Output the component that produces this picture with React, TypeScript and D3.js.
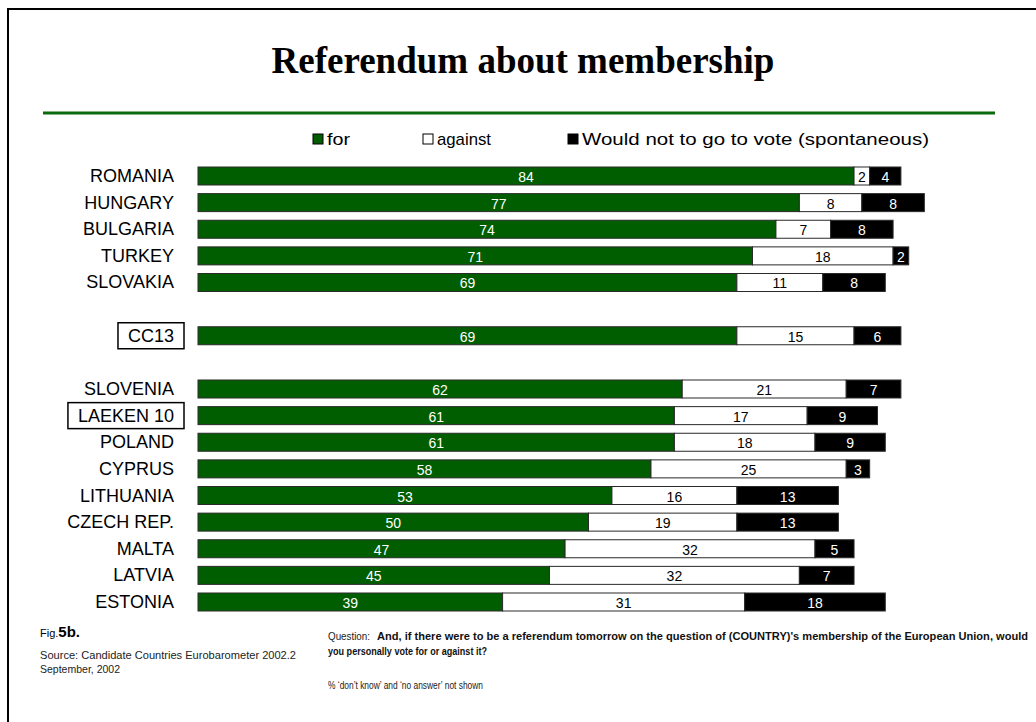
import React from "react";
import * as d3 from "d3";

const categories = [
  "ROMANIA", "HUNGARY", "BULGARIA", "TURKEY", "SLOVAKIA",
  "CC13",
  "SLOVENIA", "LAEKEN 10", "POLAND", "CYPRUS", "LITHUANIA",
  "CZECH REP.", "MALTA", "LATVIA", "ESTONIA",
];
const boxedCategories = ["CC13", "LAEKEN 10"];
const rowOrder = [
  "ROMANIA", "HUNGARY", "BULGARIA", "TURKEY", "SLOVAKIA", "gap1",
  "CC13", "gap2",
  "SLOVENIA", "LAEKEN 10", "POLAND", "CYPRUS", "LITHUANIA",
  "CZECH REP.", "MALTA", "LATVIA", "ESTONIA",
];
const forValues = [84, 77, 74, 71, 69, 69, 62, 61, 61, 58, 53, 50, 47, 45, 39];
const againstValues = [2, 8, 7, 18, 11, 15, 21, 17, 18, 25, 16, 19, 32, 32, 31];
const notVoteValues = [4, 8, 8, 2, 8, 6, 7, 9, 9, 3, 13, 13, 5, 7, 18];

const seriesNames = ["for", "against", "Would not to go to vote (spontaneous)"];
const seriesFill = ["#005e00", "#ffffff", "#000000"];
const seriesText = ["#ffffff", "#000000", "#ffffff"];

const title = "Referendum about membership";

const SANS = "'Liberation Sans', Arial, sans-serif";
const NARROW = "'Liberation Sans Narrow', 'Arial Narrow', 'Liberation Sans', Arial, sans-serif";

function measure(text: string, font: string): number {
  if (typeof document === "undefined") return text.length * 10;
  const c = document.createElement("canvas");
  const ctx = c.getContext("2d");
  if (!ctx) return text.length * 10;
  ctx.font = font;
  return ctx.measureText(text).width;
}

export default function App() {
  const W = 1036;
  const H = 722;
  const x = d3.scaleLinear().domain([0, 100]).range([198, 198 + 781]);
  const y = d3
    .scaleBand<string>()
    .domain(rowOrder)
    .range([167, 611])
    .paddingInner(0.324)
    .paddingOuter(0);
  const bh = y.bandwidth();

  const stackData = categories.map((c, i) => ({
    cat: c,
    for: forValues[i],
    against: againstValues[i],
    notvote: notVoteValues[i],
  }));
  const stack = d3.stack<any>().keys(["for", "against", "notvote"])(stackData);

  const labelRight = 174;
  const legendX = [313, 423, 568];
  const legendLen = [23, 54, 347];

  return (
    <svg
      width={W}
      height={H}
      style={{ position: "absolute", left: 0, top: 0, background: "#fff" }}
      fontFamily={SANS}
    >
      {/* frame */}
      <rect x={8} y={9} width={W + 20} height={H + 20} fill="none" stroke="#000" strokeWidth={2} />
      {/* title */}
      <text
        x={523}
        y={73}
        textAnchor="middle"
        fontFamily="'Liberation Serif', 'Times New Roman', serif"
        fontWeight="bold"
        fontSize={37}
      >
        {title}
      </text>
      <line x1={43} x2={995} y1={113} y2={113} stroke="#0b6a0b" strokeWidth={3} />

      {/* legend */}
      {seriesNames.map((n, i) => {
        const lx = legendX[i];
        return (
          <g key={n}>
            <rect x={lx} y={134} width={10} height={10} fill={seriesFill[i]} stroke="#000" strokeWidth={1} />
            <text
              x={lx + 14}
              y={139}
              dominantBaseline="central"
              fontSize={17}
              textLength={legendLen[i]}
              lengthAdjust="spacingAndGlyphs"
            >
              {n}
            </text>
          </g>
        );
      })}

      {/* category labels */}
      {categories.map((c) => {
        const cy = (y(c) as number) + bh / 2;
        const boxed = boxedCategories.includes(c);
        const tw = measure(c, `18px ${SANS}`);
        return (
          <g key={c}>
            {boxed && (
              <rect
                x={labelRight - tw - 10}
                y={cy - 13}
                width={tw + 20}
                height={26}
                fill="none"
                stroke="#000"
                strokeWidth={1.5}
              />
            )}
            <text x={labelRight} y={cy} textAnchor="end" dominantBaseline="central" fontSize={18}>
              {c}
            </text>
          </g>
        );
      })}

      {/* bars */}
      {stack.map((layer, si) => (
        <g key={si}>
          {layer.map((d, i) => {
            const c = categories[i];
            const x0 = x(d[0]);
            const x1 = x(d[1]);
            const yy = y(c) as number;
            const v = d[1] - d[0];
            return (
              <g key={c}>
                <rect
                  x={x0}
                  y={yy}
                  width={x1 - x0}
                  height={bh}
                  fill={seriesFill[si]}
                  stroke="#2a2a2a"
                  strokeWidth={1}
                />
                <text
                  x={(x0 + x1) / 2}
                  y={yy + bh / 2 + 1}
                  textAnchor="middle"
                  dominantBaseline="central"
                  fontSize={14}
                  fill={seriesText[si]}
                >
                  {v}
                </text>
              </g>
            );
          })}
        </g>
      ))}

      {/* footer */}
      <text x={40} y={637} fontFamily={NARROW}>
        <tspan fontSize={11}>Fig.</tspan>
        <tspan fontSize={15} fontWeight="bold">5b.</tspan>
      </text>
      <text x={40} y={659} fontFamily={NARROW} fontSize={11.5} fill="#222" textLength={256} lengthAdjust="spacingAndGlyphs">
        Source: Candidate Countries Eurobarometer 2002.2
      </text>
      <text x={40} y={673} fontFamily={NARROW} fontSize={11.5} fill="#222" textLength={80} lengthAdjust="spacingAndGlyphs">
        September, 2002
      </text>
      <text x={328} y={640} fontFamily={NARROW} fontSize={11} fill="#222" textLength={42} lengthAdjust="spacingAndGlyphs">
        Question:
      </text>
      <text x={377} y={640} fontFamily={NARROW} fontSize={11} fontWeight="bold" fill="#111" textLength={651} lengthAdjust="spacingAndGlyphs">
        And, if there were to be a referendum tomorrow on the question of (COUNTRY)'s membership of the European Union, would
      </text>
      <text x={328} y={655} fontFamily={NARROW} fontSize={11} fontWeight="bold" fill="#111" textLength={159} lengthAdjust="spacingAndGlyphs">
        you personally vote for or against it?
      </text>
      <text x={328} y={689} fontFamily={NARROW} fontSize={11} fill="#222" textLength={155} lengthAdjust="spacingAndGlyphs">
        % ‘don’t know’ and ‘no answer’ not shown
      </text>
    </svg>
  );
}
